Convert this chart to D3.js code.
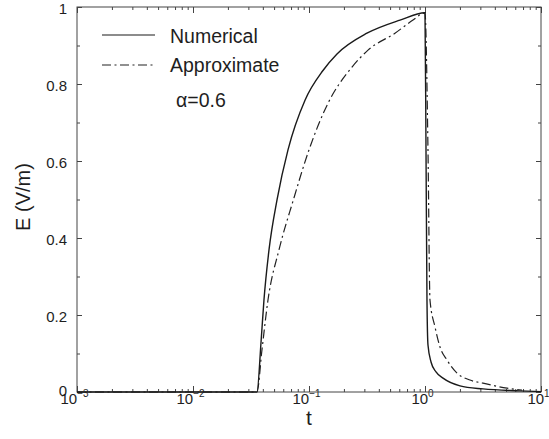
<!DOCTYPE html>
<html>
<head>
<meta charset="utf-8">
<script src="https://cdn.jsdelivr.net/npm/d3@7"></script>
<style>
body { margin: 0; background: #fff; }
text { font-family: "Liberation Sans", Arial, sans-serif; fill: #1e1e1e; }
</style>
</head>
<body>
<svg id="chart" width="549" height="439"></svg>
<script>
// values
const numT = [0.001, 0.0356, 0.0386, 0.0409, 0.0452, 0.053, 0.0659, 0.0924, 0.132, 0.1743, 0.316, 0.609, 1.0,
    1.02, 1.04, 1.061, 1.127, 1.244, 1.43, 2.003, 3.162, 6.59, 10];
const numE = [0, 0, 0.13, 0.239, 0.369, 0.499, 0.629, 0.758, 0.835, 0.878, 0.932, 0.966, 0.985,
    0.629, 0.239, 0.122, 0.078, 0.052, 0.036, 0.016, 0.008, 0.003, 0.001];

const appT = [0.001, 0.0356, 0.0393, 0.0443, 0.0551, 0.0733, 0.1, 0.1458, 0.2349, 0.3226, 0.5513, 0.788, 1.0,
    1.061, 1.104, 1.22, 1.347, 1.548, 1.888, 2.443, 3.162, 5.09, 6.86];
const appE = [0, 0, 0.109, 0.239, 0.369, 0.499, 0.629, 0.75, 0.844, 0.888, 0.932, 0.966, 0.985,
    0.629, 0.239, 0.169, 0.117, 0.083, 0.049, 0.031, 0.023, 0.010, 0.005];

const yTicks = [0, 0.2, 0.4, 0.6, 0.8, 1];
const yTickLabels = ["0", "0.2", "0.4", "0.6", "0.8", "1"];
const yMinor = [0.1, 0.3, 0.5, 0.7, 0.9];
const xDecades = [-3, -2, -1, 0, 1];

const svg = d3.select("#chart");
const margin = { left: 77, right: 541, top: 7, bottom: 392 };

const x = d3.scaleLog().domain([1e-3, 10]).range([margin.left, margin.right]);
const y = d3.scaleLinear().domain([0, 1]).range([margin.bottom, margin.top]);

const majorX = xDecades.map(p => Math.pow(10, p));
const minorX = x.ticks().filter(v => !majorX.some(m => Math.abs(m - v) / m < 1e-6));

function styleAxis(g) {
    g.select(".domain").remove();
    g.selectAll(".tick line").attr("stroke", "#444");
}

// minor + major ticks, all inward
svg.append("g").attr("transform", `translate(0,${margin.bottom})`)
    .call(d3.axisBottom(x).tickValues(minorX).tickSize(-3).tickFormat(""))
    .call(styleAxis);
svg.append("g").attr("transform", `translate(0,${margin.top})`)
    .call(d3.axisTop(x).tickValues(minorX).tickSize(-3).tickFormat(""))
    .call(styleAxis);
svg.append("g").attr("transform", `translate(0,${margin.top})`)
    .call(d3.axisTop(x).tickValues(majorX).tickSize(-6).tickFormat(""))
    .call(styleAxis);

const xAxis = svg.append("g").attr("transform", `translate(0,${margin.bottom})`)
    .call(d3.axisBottom(x).tickValues(majorX).tickSize(-6).tickPadding(4).tickFormat(""))
    .call(styleAxis);

xAxis.selectAll(".tick text")
    .attr("font-size", 15)
    .attr("font-family", "Liberation Sans, Arial, sans-serif")
    .attr("fill", "#1e1e1e")
    .attr("text-anchor", "middle")
    .attr("x", -3)
    .attr("dy", null)
    .attr("y", 12)
    .each(function (d) {
        const t = d3.select(this);
        t.append("tspan").text("10");
        t.append("tspan").attr("font-size", 10).attr("dy", -7)
            .text(String(Math.round(Math.log10(d))).replace("-", "\u2212"));
    });

svg.append("g").attr("transform", `translate(${margin.left},0)`)
    .call(d3.axisLeft(y).tickValues(yMinor).tickSize(-3).tickFormat(""))
    .call(styleAxis);
svg.append("g").attr("transform", `translate(${margin.right},0)`)
    .call(d3.axisRight(y).tickValues(yMinor).tickSize(-3).tickFormat(""))
    .call(styleAxis);
svg.append("g").attr("transform", `translate(${margin.right},0)`)
    .call(d3.axisRight(y).tickValues(yTicks).tickSize(-5).tickFormat(""))
    .call(styleAxis);
svg.append("g").attr("transform", `translate(${margin.left},0)`)
    .call(d3.axisLeft(y).tickValues(yTicks).tickSize(-5).tickPadding(10)
        .tickFormat((d, i) => yTickLabels[i]))
    .call(styleAxis)
    .selectAll(".tick text")
    .attr("font-size", 15)
    .attr("dy", d => d === 0 ? "0.2em" : "0.45em")
    .attr("font-family", "Liberation Sans, Arial, sans-serif")
    .attr("fill", "#1e1e1e");

// frame
svg.append("rect")
    .attr("x", margin.left).attr("y", margin.top)
    .attr("width", margin.right - margin.left).attr("height", margin.bottom - margin.top)
    .attr("fill", "none").attr("stroke", "#444").attr("stroke-width", 1);

// curves
const line = d3.line().x(d => x(d[0])).y(d => y(d[1])).curve(d3.curveMonotoneX);
const numData = numT.map((t, i) => [t, numE[i]]);
const appData = appT.map((t, i) => [t, appE[i]]);
const dashDot = "9,3.5,2,3.5";

svg.append("path").datum(appData)
    .attr("d", line)
    .attr("fill", "none").attr("stroke", "#222").attr("stroke-width", 1.2)
    .attr("stroke-dasharray", dashDot);

svg.append("path").datum(numData)
    .attr("d", line)
    .attr("fill", "none").attr("stroke", "#1a1a1a").attr("stroke-width", 1.4);

// legend
const legend = svg.append("g");
legend.append("line").attr("x1", 102).attr("x2", 155).attr("y1", 35).attr("y2", 35)
    .attr("stroke", "#1a1a1a").attr("stroke-width", 1.2);
legend.append("line").attr("x1", 102).attr("x2", 155).attr("y1", 65).attr("y2", 65)
    .attr("stroke", "#222").attr("stroke-width", 1.2).attr("stroke-dasharray", dashDot);
legend.append("text").attr("x", 170).attr("y", 43).attr("font-size", 19.5).text("Numerical");
legend.append("text").attr("x", 170).attr("y", 72).attr("font-size", 19.5).text("Approximate");
legend.append("text").attr("x", 176).attr("y", 107).attr("font-size", 19.5).text("\u03b1=0.6");

// axis titles
svg.append("text")
    .attr("x", (margin.left + margin.right) / 2)
    .attr("y", 425)
    .attr("text-anchor", "middle")
    .attr("font-size", 21)
    .text("t");

svg.append("text")
    .attr("transform", "translate(30,197) rotate(-90)")
    .attr("text-anchor", "middle")
    .attr("font-size", 20)
    .text("E (V/m)");
</script>
</body>
</html>
